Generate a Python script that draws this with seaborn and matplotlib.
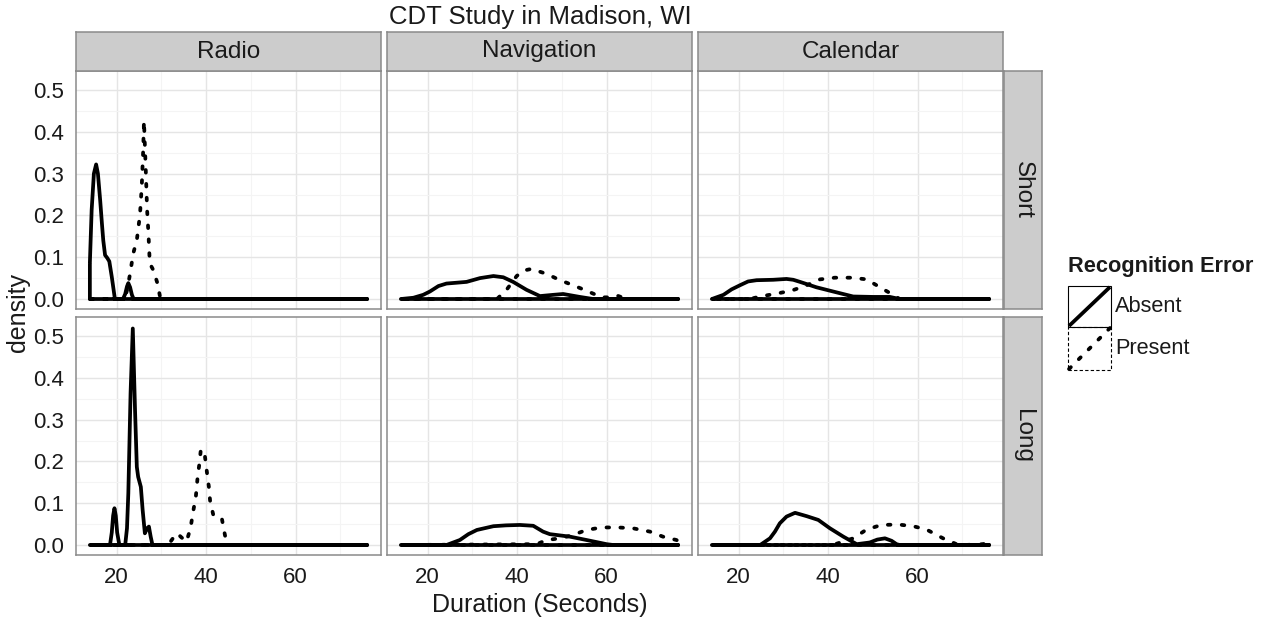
import numpy as np
import pandas as pd
import matplotlib
matplotlib.use("Agg")
import matplotlib.pyplot as plt
from matplotlib.lines import Line2D
from matplotlib.patches import Rectangle
from matplotlib.ticker import FixedLocator
import seaborn as sns

# ---- data: density curves of task duration, per task / drive length / error ----
tasks = ["Radio", "Navigation", "Calendar"]
lengths = ["Short", "Long"]
errors = ["Absent", "Present"]

radio_short_absent_x = [14.0, 14.4, 14.9, 15.4, 15.8, 16.3, 16.7, 17.0, 17.4, 17.9, 18.35, 18.9, 19.6,
                        21.4, 21.9, 22.3, 22.6, 23.0, 23.4, 23.8, 76.0]
radio_short_absent_y = [0.086, 0.213, 0.30, 0.322, 0.30, 0.237, 0.18, 0.14, 0.105, 0.098, 0.09, 0.053, 0.0,
                        0.0, 0.012, 0.03, 0.038, 0.028, 0.01, 0.0, 0.0]
radio_short_present_x = [14.0, 21.8, 22.4, 23.0, 23.7, 24.5, 25.2, 25.6, 25.9, 26.1, 26.5, 26.8, 27.1,
                         27.4, 28.2, 29.1, 29.7, 30.2, 76.0]
radio_short_present_y = [0.0, 0.0, 0.025, 0.061, 0.109, 0.141, 0.201, 0.269, 0.349, 0.426, 0.309, 0.213,
                         0.157, 0.085, 0.069, 0.038, 0.005, 0.0, 0.0]

radio_long_absent_x = [14.0, 18.5, 18.9, 19.2, 19.5, 19.8, 20.1, 20.6, 21.9, 22.3, 22.6, 23.1, 23.6, 24.1,
                       24.5, 24.8, 25.4, 25.8, 26.3, 26.8, 27.2, 27.6, 28.0, 76.0]
radio_long_absent_y = [0.0, 0.0, 0.03, 0.07, 0.088, 0.07, 0.03, 0.0, 0.0, 0.04, 0.124, 0.363, 0.518, 0.323,
                       0.187, 0.163, 0.139, 0.084, 0.028, 0.04, 0.044, 0.02, 0.0, 0.0]
radio_long_present_x = [14.0, 31.5, 32.5, 33.5, 34.5, 35.6, 36.5, 37.1, 37.7, 38.1, 38.5, 38.8, 39.3,
                        39.7, 40.2, 40.6, 40.9, 41.6, 42.5, 43.5, 44.2, 44.7, 76.0]
radio_long_present_y = [0.0, 0.0, 0.015, 0.028, 0.018, 0.008, 0.04, 0.08, 0.116, 0.163, 0.195, 0.227, 0.228,
                        0.215, 0.172, 0.14, 0.104, 0.072, 0.066, 0.064, 0.024, 0.0, 0.0]

nav_short_absent_x = [14.0, 16.8, 19.0, 20.5, 22.4, 24.2, 26.5, 28.7, 31.7, 34.7, 36.9, 39.1, 42.1, 45.1,
                      48.1, 50.3, 54.0, 57.0, 76.0]
nav_short_absent_y = [0.0, 0.003, 0.01, 0.018, 0.031, 0.037, 0.039, 0.041, 0.05, 0.055, 0.052, 0.041, 0.022,
                      0.007, 0.01, 0.012, 0.005, 0.0, 0.0]
nav_short_present_x = [14.0, 35.5, 37.7, 39.9, 41.4, 43.2, 46.6, 49.6, 52.5, 55.9, 58.9, 60.7, 62.4, 64.5, 76.0]
nav_short_present_y = [0.0, 0.0, 0.023, 0.055, 0.068, 0.072, 0.06, 0.045, 0.033, 0.018, 0.004, 0.004, 0.008,
                       0.0, 0.0]

nav_long_absent_x = [14.0, 24.2, 27.2, 29.1, 31.0, 34.7, 37.5, 40.6, 43.6, 45.8, 47.3, 51.8, 55.5, 60.0,
                     61.5, 76.0]
nav_long_absent_y = [0.0, 0.0, 0.012, 0.026, 0.036, 0.045, 0.047, 0.048, 0.046, 0.032, 0.026, 0.02, 0.012,
                     0.002, 0.0, 0.0]
nav_long_present_x = [14.0, 44.4, 46.6, 49.6, 52.5, 55.5, 58.9, 62.6, 65.9, 69.7, 72.6, 75.6, 76.0]
nav_long_present_y = [0.0, 0.002, 0.012, 0.016, 0.024, 0.036, 0.042, 0.042, 0.04, 0.032, 0.02, 0.012, 0.01]

cal_short_absent_x = [14.0, 16.6, 18.4, 20.3, 22.1, 24.0, 27.7, 30.7, 32.2, 33.7, 37.4, 41.1, 45.6, 50.0,
                      53.8, 56.0, 76.0]
cal_short_absent_y = [0.0, 0.01, 0.023, 0.033, 0.042, 0.045, 0.046, 0.048, 0.046, 0.041, 0.028, 0.018, 0.006,
                      0.005, 0.005, 0.0, 0.0]
cal_short_present_x = [14.0, 22.5, 24.8, 28.5, 31.8, 34.8, 38.2, 41.5, 45.3, 48.6, 51.6, 54.5, 56.0, 76.0]
cal_short_present_y = [0.0, 0.0, 0.006, 0.013, 0.02, 0.031, 0.047, 0.051, 0.051, 0.047, 0.028, 0.01, 0.0, 0.0]

cal_long_absent_x = [14.0, 24.8, 27.0, 28.1, 29.2, 30.7, 32.6, 35.2, 37.8, 40.4, 43.4, 46.4, 49.3, 51.0,
                     52.7, 54.2, 55.3, 56.0, 76.0]
cal_long_absent_y = [0.0, 0.0, 0.016, 0.032, 0.052, 0.068, 0.077, 0.069, 0.06, 0.04, 0.02, 0.002, 0.006,
                     0.013, 0.016, 0.01, 0.002, 0.0, 0.0]
cal_long_present_x = [14.0, 41.0, 45.6, 48.6, 51.9, 55.7, 59.0, 62.0, 65.7, 68.7, 70.5, 74.5, 76.0]
cal_long_present_y = [0.0, 0.0, 0.016, 0.037, 0.048, 0.049, 0.045, 0.037, 0.016, 0.002, 0.0, 0.002, 0.005]

x_ticks = [20, 40, 60]
y_ticks = [0.0, 0.1, 0.2, 0.3, 0.4, 0.5]

curves = {
    ("Radio", "Short", "Absent"): (radio_short_absent_x, radio_short_absent_y),
    ("Radio", "Short", "Present"): (radio_short_present_x, radio_short_present_y),
    ("Radio", "Long", "Absent"): (radio_long_absent_x, radio_long_absent_y),
    ("Radio", "Long", "Present"): (radio_long_present_x, radio_long_present_y),
    ("Navigation", "Short", "Absent"): (nav_short_absent_x, nav_short_absent_y),
    ("Navigation", "Short", "Present"): (nav_short_present_x, nav_short_present_y),
    ("Navigation", "Long", "Absent"): (nav_long_absent_x, nav_long_absent_y),
    ("Navigation", "Long", "Present"): (nav_long_present_x, nav_long_present_y),
    ("Calendar", "Short", "Absent"): (cal_short_absent_x, cal_short_absent_y),
    ("Calendar", "Short", "Present"): (cal_short_present_x, cal_short_present_y),
    ("Calendar", "Long", "Absent"): (cal_long_absent_x, cal_long_absent_y),
    ("Calendar", "Long", "Present"): (cal_long_present_x, cal_long_present_y),
}

# Each density is drawn as a closed outline (curve plus its baseline)
rows = []
for (task, length, err), (xs, ys) in curves.items():
    px = list(xs) + [xs[-1], xs[0], xs[0]]
    py = list(ys) + [0.0, 0.0, ys[0]]
    for i, (a, b) in enumerate(zip(px, py)):
        rows.append({"Task": task, "Length": length, "Recognition Error": err,
                     "Duration": a, "density": b, "order": i})
df = pd.DataFrame(rows)

# ---- styling ----
sns.set_style("white")
plt.rcParams["font.family"] = ["Liberation Sans", "DejaVu Sans"]

W, H = 1265, 619
fig = plt.figure(figsize=(W / 100, H / 100), dpi=100)


def rect(l, t, r, b):
    return [l / W, 1 - b / H, (r - l) / W, (b - t) / H]


col_left = [76, 387, 698]
panel_w = 305
row_top = [71, 317]
panel_h = 238
border = "#8a8a8a"
strip_fill = "#cccccc"
txt = "#1a1a1a"
lw = 2.7
dash_pattern = (0.7, 3.0)

for ri, length in enumerate(lengths):
    for ci, task in enumerate(tasks):
        l, t = col_left[ci], row_top[ri]
        ax = fig.add_axes(rect(l, t, l + panel_w, t + panel_h))
        sub = df[(df["Task"] == task) & (df["Length"] == length)]
        sns.lineplot(data=sub, x="Duration", y="density", style="Recognition Error",
                     style_order=errors, dashes={"Absent": "", "Present": dash_pattern},
                     estimator=None, sort=False, color="black", linewidth=lw,
                     legend=False, ax=ax, zorder=3)
        for ln in ax.lines:
            ln.set_dash_capstyle("round")
            ln.set_solid_capstyle("butt")
            ln.set_solid_joinstyle("round")
            ln.set_dash_joinstyle("round")
        ax.set_xlim(10.9, 79.1)
        ax.set_ylim(-0.0239, 0.5455)
        ax.xaxis.set_major_locator(FixedLocator(x_ticks))
        ax.yaxis.set_major_locator(FixedLocator(y_ticks))
        ax.xaxis.set_minor_locator(FixedLocator([30, 50, 70]))
        ax.yaxis.set_minor_locator(FixedLocator([0.05, 0.15, 0.25, 0.35, 0.45]))
        ax.grid(which="major", color="#e5e5e5", linewidth=1.0, zorder=0)
        ax.grid(which="minor", color="#f4f4f4", linewidth=0.8, zorder=0)
        ax.set_axisbelow(True)
        for sp in ax.spines.values():
            sp.set_color(border)
            sp.set_linewidth(1.1)
        ax.set_xlabel("")
        ax.set_ylabel("")
        ax.tick_params(which="minor", length=0)
        ax.tick_params(which="major", length=5.8, width=1.0, color="#333333",
                       labelsize=16, labelcolor=txt, pad=3)
        if ci == 0:
            ax.set_yticklabels([f"{v:.1f}" for v in y_ticks])
        else:
            ax.tick_params(axis="y", length=0, labelleft=False)
        if ri == 1:
            ax.set_xticklabels([str(v) for v in x_ticks])
        else:
            ax.tick_params(axis="x", length=0, labelbottom=False)

# column strips
for ci, task in enumerate(tasks):
    l = col_left[ci]
    sax = fig.add_axes(rect(l, 32, l + panel_w, 71))
    sax.set_facecolor(strip_fill)
    sax.set_xticks([]); sax.set_yticks([])
    for sp in sax.spines.values():
        sp.set_color(border); sp.set_linewidth(1.1)
    sax.text(0.5, 0.5, task, ha="center", va="center", fontsize=17.5, color=txt,
             transform=sax.transAxes)

# row strips
for ri, length in enumerate(lengths):
    t = row_top[ri]
    sax = fig.add_axes(rect(1004, t, 1042, t + panel_h))
    sax.set_facecolor(strip_fill)
    sax.set_xticks([]); sax.set_yticks([])
    for sp in sax.spines.values():
        sp.set_color(border); sp.set_linewidth(1.1)
    sax.text(0.5, 0.5, length, ha="center", va="center", rotation=-90, fontsize=17.5,
             color=txt, transform=sax.transAxes)

# titles and axis labels
fig.text(540 / W, 1 - 17 / H, "CDT Study in Madison, WI", ha="center", va="center",
         fontsize=18.5, color=txt)
fig.text(540 / W, 1 - 605 / H, "Duration (Seconds)", ha="center", va="center",
         fontsize=18, color=txt)
fig.text(18 / W, 1 - 313 / H, "density", ha="center", va="center", rotation=90,
         fontsize=18, color=txt)

# legend
fig.text(1068 / W, 1 - 267 / H, "Recognition Error", ha="left", va="center",
         fontsize=15.7, fontweight="bold", color=txt)
key_boxes = [(286, 327), (327, 370)]
for (top, bot), err in zip(key_boxes, errors):
    ls = "-" if err == "Absent" else (0, (3, 2))
    fig.add_artist(Rectangle((1068 / W, 1 - bot / H), 43 / W, (bot - top) / H,
                             transform=fig.transFigure, fill=False, edgecolor="black",
                             linewidth=0.8, linestyle=ls))
    diag = Line2D([1069 / W, 1110 / W], [1 - (bot - 1) / H, 1 - (top + 1) / H],
                  transform=fig.transFigure, color="black", linewidth=lw)
    if err == "Present":
        diag.set_dashes(dash_pattern)
        diag.set_dash_capstyle("round")
    else:
        diag.set_solid_capstyle("butt")
    fig.add_artist(diag)
    fig.text(1115 / W, 1 - (top + bot) / 2 / H, err, ha="left", va="center",
             fontsize=15.7, color=txt)

fig.savefig("out.png", dpi=100)
